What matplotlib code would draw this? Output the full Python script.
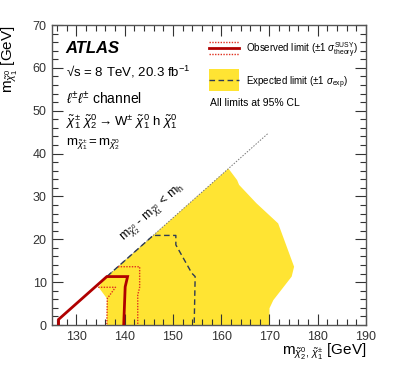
import matplotlib
matplotlib.use("Agg")
import matplotlib.pyplot as plt
from matplotlib.ticker import MultipleLocator

plt.rcParams['font.family'] = ['Liberation Sans', 'DejaVu Sans']
plt.rcParams['mathtext.fontset'] = 'custom'
plt.rcParams['mathtext.rm'] = 'Liberation Sans'
plt.rcParams['mathtext.it'] = 'Liberation Sans:italic'
plt.rcParams['mathtext.bf'] = 'Liberation Sans:bold'

# ---- data (GeV) ----
yellow_x = [136.3, 136.3, 134.6, 135.6, 161.5, 163.3, 163.7, 167.3, 171.8, 175.1, 174.6, 170.8, 170.0, 170.0]
yellow_y = [0.0, 6.2, 8.8, 10.6, 36.5, 33.8, 32.7, 28.4, 23.7, 13.6, 11.3, 5.8, 3.9, 0.0]

exp_x = [135.0, 145.9, 150.6, 150.6, 153.9, 154.6, 154.4]
exp_y = [10.0, 20.9, 20.9, 18.7, 12.1, 11.3, 0.0]

obs_x = [126.3, 126.3, 136.3, 140.6, 140.1, 139.8]
obs_y = [0.0, 1.3, 11.3, 11.3, 8.9, 0.0]

obs_up_x = [138.6, 143.1, 143.1, 142.7, 142.7]
obs_up_y = [13.6, 13.6, 8.8, 7.0, 0.0]

obs_dn_x = [134.5, 138.1, 136.4, 136.3]
obs_dn_y = [8.8, 8.8, 6.2, 0.0]

kin_x = [126.0, 169.8]
kin_y = [1.0, 44.8]

xticks = [130, 140, 150, 160, 170, 180, 190]
yticks = [0, 10, 20, 30, 40, 50, 60, 70]

YELLOW = '#FFE433'
RED = '#B00000'
DASH = '#2E3B55'

fig = plt.figure(figsize=(4.07, 3.70), dpi=100)
ax = fig.add_axes([52.3/407, 45/370, (366-52.3)/407, 300/370])

ax.fill(yellow_x, yellow_y, color=YELLOW, lw=0, zorder=1)
ax.plot(kin_x, kin_y, color='#777777', lw=0.7, ls=(0, (1.5, 1.5)), zorder=2)
ax.plot(exp_x, exp_y, color=DASH, lw=1.0, ls=(0, (4, 2.5)), zorder=3)
ax.plot(obs_up_x, obs_up_y, color='#E0301E', lw=1.0, ls=(0, (1, 1)), zorder=4)
ax.plot(obs_dn_x, obs_dn_y, color='#E0301E', lw=1.0, ls=(0, (1, 1)), zorder=4)
ax.plot(obs_x, obs_y, color=RED, lw=2.0, zorder=5, solid_joinstyle='miter')

ax.set_xlim(125, 190)
ax.set_ylim(0, 70)
ax.set_xticks(xticks)
ax.set_yticks(yticks)
ax.xaxis.set_minor_locator(MultipleLocator(2))
ax.yaxis.set_minor_locator(MultipleLocator(2))
ax.tick_params(which='both', direction='in', top=True, right=True, labelsize=9, colors='#333333', pad=4)
ax.tick_params(which='major', length=8, width=0.8)
ax.tick_params(which='minor', length=4, width=0.8)
for s in ax.spines.values():
    s.set_color('#555555')
    s.set_linewidth(1.0)

# axis labels
fig.text(366/407, 1 - 352/370, r'$\mathrm{m}_{\tilde{\chi}^{0}_{2},\,\tilde{\chi}^{\pm}_{1}}$ [GeV]',
         ha='right', va='center', fontsize=11)
fig.text(10/407, 1 - 25/370, r'$\mathrm{m}_{\tilde{\chi}^{0}_{1}}$ [GeV]', rotation=90,
         ha='center', va='top', fontsize=11)

# left text block
ax.text(127.8, 64.6, 'ATLAS', fontsize=12, fontweight='bold', fontstyle='italic', va='center')
ax.text(127.8, 59.1, '\u221As = 8 TeV, 20.3 fb$^{-1}$', fontsize=9.5, va='center')
ax.text(127.8, 52.7, r'$\ell^{\pm}\ell^{\pm}$ channel', fontsize=10, va='center')
ax.text(127.8, 47.4, r'$\tilde{\chi}^{\pm}_{1}\ \tilde{\chi}^{0}_{2} \rightarrow \mathrm{W}^{\pm}\ \tilde{\chi}^{0}_{1}\ \mathrm{h}\ \tilde{\chi}^{0}_{1}$',
        fontsize=9.5, va='center')
ax.text(127.8, 42.2, r'$\mathrm{m}_{\tilde{\chi}^{\pm}_{1}} = \mathrm{m}_{\tilde{\chi}^{0}_{2}}$', fontsize=9.5, va='center')

# kinematic label
ax.text(145.9, 26.2, r'$\mathrm{m}_{\tilde{\chi}^{0}_{2}}$ - $\mathrm{m}_{\tilde{\chi}^{0}_{1}}$ < $\mathrm{m}_{\mathrm{h}}$',
        rotation=41.6, rotation_mode='anchor', ha='center', va='center', fontsize=9)

# legend
ax.plot([157.5, 163.7], [66.1, 66.1], color='#E0301E', lw=1.0, ls=(0, (1, 1)))
ax.plot([157.5, 163.7], [63.2, 63.2], color='#E0301E', lw=1.0, ls=(0, (1, 1)))
ax.plot([157.5, 163.7], [64.6, 64.6], color=RED, lw=2.0)
ax.text(165.1, 64.0, r'Observed limit ($\pm$1 $\sigma^{\mathrm{SUSY}}_{\mathrm{theory}}$)', fontsize=7, va='center')
ax.fill([157.5, 163.7, 163.7, 157.5], [54.7, 54.7, 59.7, 59.7], color=YELLOW, lw=0)
ax.plot([157.5, 163.7], [57.2, 57.2], color=DASH, lw=1.0, ls=(0, (4, 2.5)))
ax.text(165.1, 56.5, r'Expected limit ($\pm$1 $\sigma_{\mathrm{exp}}$)', fontsize=7, va='center')
ax.text(157.7, 51.7, 'All limits at 95% CL', fontsize=7.5, va='center')

fig.savefig('out.png', dpi=100)
